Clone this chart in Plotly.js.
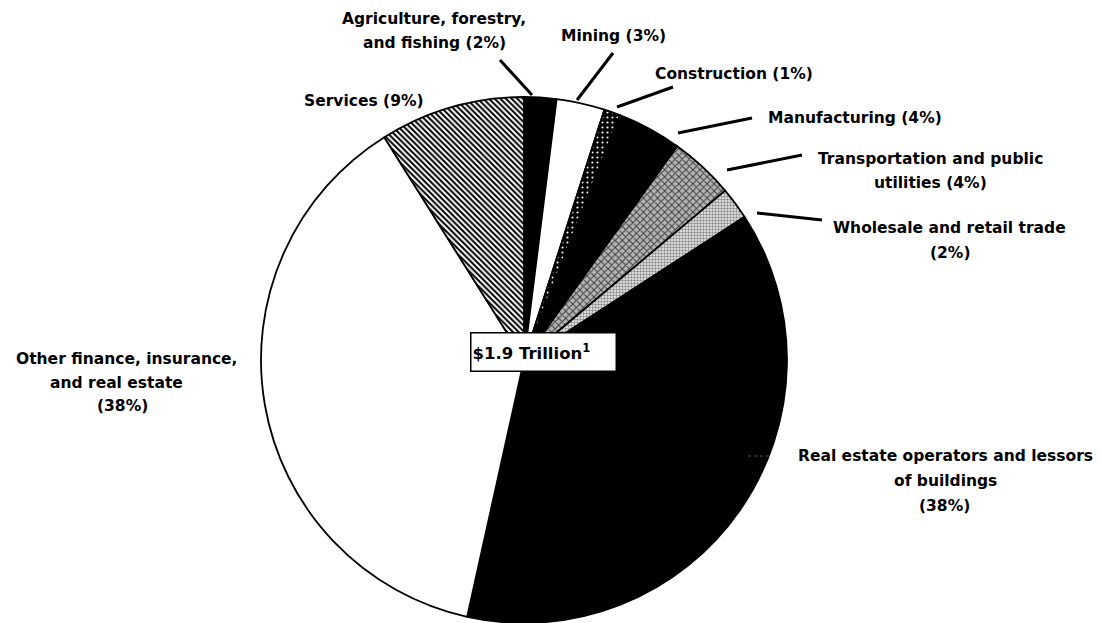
<!DOCTYPE html>
<html>
<head>
<meta charset="utf-8">
<script src="https://cdn.plot.ly/plotly-3.0.1.min.js"></script>
<style>
  html, body { margin: 0; padding: 0; background: #ffffff; }
  #chart { width: 1102px; height: 623px; }
</style>
</head>
<body>
<div id="chart"></div>
<script>
// ---- Data ----
const categories = [
  'Agriculture, forestry, and fishing',
  'Mining',
  'Construction',
  'Manufacturing',
  'Transportation and public utilities',
  'Wholesale and retail trade',
  'Real estate operators and lessors of buildings',
  'Other finance, insurance, and real estate',
  'Services'
];
const shares = [2, 3, 1, 4, 4, 2, 38, 38, 9];   // percent of $1.9 trillion
const labelLines = [
  ['Agriculture, forestry,', 'and fishing (2%)'],
  ['Mining (3%)'],
  ['Construction (1%)'],
  ['Manufacturing (4%)'],
  ['Transportation and public', 'utilities (4%)'],
  ['Wholesale and retail trade', '(2%)'],
  ['Real estate operators and lessors', 'of buildings', '(38%)'],
  ['Other finance, insurance,', 'and real estate', '(38%)'],
  ['Services (9%)']
];
const centerText = '$1.9 Trillion<sup>1</sup>';

// ---- Layout helpers (pixel -> paper) ----
const W = 1102, H = 623;
const px = x => x / W;
const py = y => 1 - y / H;

// label line positions (pixels, centre of each line)
const labelPos = [
  [[434, 19], [434, 43]],
  [[613, 36]],
  [[734, 74]],
  [[855, 118]],
  [[930, 159], [930, 183]],
  [[950, 228], [950, 253]],
  [[945, 456], [945, 481], [944, 506]],
  [[127, 359], [116, 383], [122, 406]],
  [[364, 101]]
];
// leader lines (pixels)
const leaders = [
  [500, 60, 532, 95],
  [613, 53, 577, 100],
  [673, 87, 617, 107],
  [752, 118, 678, 133],
  [802, 155, 727, 170],
  [822, 220, 757, 213],
  null, null, null
];

const fills = ['#000000', '#ffffff', '#0a0a0a', '#000000', '#a8a8a8', '#e0e0e0', '#000000', '#ffffff', '#ffffff'];
const patShape = ['', '', '.', '', 'x', '.', '', '', '\\'];
const patFg = ['#000', '#000', '#ffffff', '#000', '#3c3c3c', '#8a8a8a', '#000', '#000', '#000000'];
const patBg = ['#000', '#fff', '#000000', '#000', '#b4b4b4', '#f2f2f2', '#000', '#fff', '#ffffff'];
const patSize = [8, 8, 5, 8, 5, 3, 8, 8, 4];
const patSolid = [0.3, 0.3, 0.15, 0.3, 0.35, 0.5, 0.3, 0.3, 0.5];

const trace = {
  type: 'pie',
  labels: categories,
  values: shares,
  sort: false,
  direction: 'clockwise',
  rotation: 0,
  textinfo: 'none',
  hoverinfo: 'label+percent',
  showlegend: false,
  domain: { x: [px(524 - 263), px(524 + 263)], y: [py(360 + 263), py(360 - 263)] },
  marker: {
    colors: fills,
    line: { color: '#000000', width: 1.8 },
    pattern: {
      shape: patShape,
      fgcolor: patFg,
      bgcolor: patBg,
      size: patSize,
      solidity: patSolid,
      fillmode: 'replace'
    }
  }
};

const font = { family: 'DejaVu Sans', size: 15.5, color: '#000000' };
const annotations = [];
labelLines.forEach((lines, i) => {
  lines.forEach((t, j) => {
    const p = labelPos[i][j];
    annotations.push({
      xref: 'paper', yref: 'paper', x: px(p[0]), y: py(p[1]),
      xanchor: 'center', yanchor: 'middle',
      text: '<b>' + t + '</b>', showarrow: false, font: font
    });
  });
});
annotations.push({
  xref: 'paper', yref: 'paper', x: px(470), y: py(332),
  xanchor: 'left', yanchor: 'top',
  text: '<b>' + centerText + '</b>', showarrow: false,
  font: { family: 'DejaVu Sans', size: 16.5, color: '#000' },
  bgcolor: '#ffffff', bordercolor: '#000000', borderwidth: 1.5, borderpad: 1,
  width: 142, height: 35, align: 'left', valign: 'middle'
});

const shapes = [];
leaders.forEach(l => {
  if (!l) return;
  shapes.push({
    type: 'line', xref: 'paper', yref: 'paper',
    x0: px(l[0]), y0: py(l[1]), x1: px(l[2]), y1: py(l[3]),
    line: { color: '#000000', width: 3 }
  });
});
shapes.push({
  type: 'line', xref: 'paper', yref: 'paper',
  x0: px(748), y0: py(456), x1: px(772), y1: py(456),
  line: { color: '#555555', width: 1, dash: 'dot' }
});

const layout = {
  width: W, height: H,
  margin: { l: 0, r: 0, t: 0, b: 0 },
  paper_bgcolor: '#ffffff',
  plot_bgcolor: '#ffffff',
  showlegend: false,
  annotations: annotations,
  shapes: shapes
};

Plotly.newPlot('chart', [trace], layout, { displayModeBar: false, staticPlot: true });
</script>
</body>
</html>
